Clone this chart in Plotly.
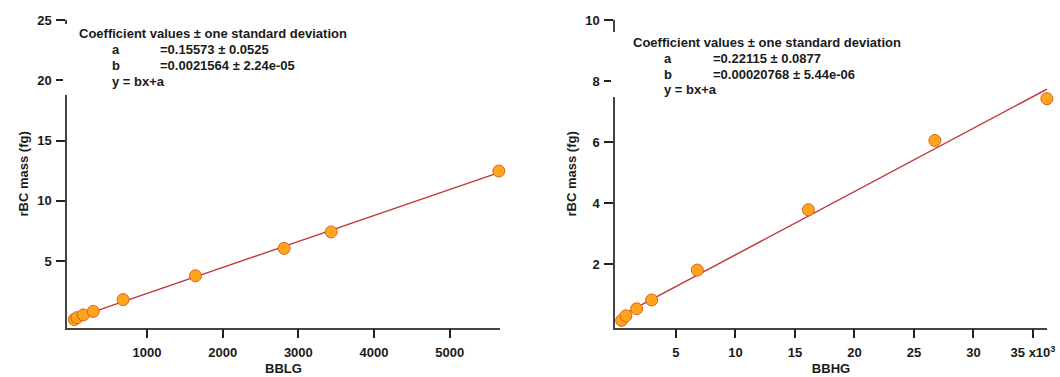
import plotly.graph_objects as go

# ---- data ----
rbc_mass_left = [0.15, 0.30, 0.53, 0.82, 1.80, 3.78, 6.05, 7.42, 12.47]
bblg = [40, 75, 158, 290, 684, 1641, 2812, 3434, 5650]

rbc_mass_right = [0.15, 0.30, 0.53, 0.82, 1.80, 3.78, 6.05, 7.42]
bbhg = [440, 800, 1700, 2960, 6800, 16130, 26760, 36170]

fit_left = {"a": 0.15573, "b": 0.0021564}
fit_right = {"a": 0.22115, "b": 0.00020768}

left_text = ["Coefficient values ± one standard deviation", "a", "=0.15573 ± 0.0525",
             "b", "=0.0021564 ± 2.24e-05", "y = bx+a"]
right_text = ["Coefficient values ± one standard deviation", "a", "=0.22115 ± 0.0877",
              "b", "=0.00020768 ± 5.44e-06", "y = bx+a"]

left_xticks = [1000, 2000, 3000, 4000, 5000]
left_yticks = [5, 10, 15, 20, 25]
right_xticks = [5000, 10000, 15000, 20000, 25000, 30000, 35000]
right_xticktext = ["5", "10", "15", "20", "25", "30", "35 x10<sup>3</sup>"]
right_yticks = [2, 4, 6, 8, 10]

W, H = 1060, 377
FONT = "Liberation Sans, Arial, sans-serif"
TXT = "#1a1a1a"
LINE_C = "#c0393f"
MARK_FILL = "#ffa41c"
MARK_EDGE = "#d8651c"

fig = go.Figure()

def fit_line(xs, fit):
    x0, x1 = min(xs), max(xs)
    return [x0, x1], [fit["a"] + fit["b"] * x0, fit["a"] + fit["b"] * x1]

for xs, ys, fit, xa, ya in [(bblg, rbc_mass_left, fit_left, "x", "y"),
                            (bbhg, rbc_mass_right, fit_right, "x2", "y2")]:
    fx, fy = fit_line(xs, fit)
    fig.add_trace(go.Scatter(x=fx, y=fy, mode="lines", xaxis=xa, yaxis=ya,
                             line=dict(color=LINE_C, width=1.5),
                             cliponaxis=False, showlegend=False, hoverinfo="skip"))
    fig.add_trace(go.Scatter(x=xs, y=ys, mode="markers", xaxis=xa, yaxis=ya,
                             marker=dict(size=12, color=MARK_FILL,
                                         line=dict(color=MARK_EDGE, width=1)),
                             cliponaxis=False, showlegend=False))

ydom = [1 - 327.7 / H, 1 - 20 / H]
TF = dict(size=13, color=TXT, family=FONT, weight="bold")
TITLEF = dict(size=13, family=FONT, color=TXT, weight="bold")
axis_common = dict(showline=True, linecolor="#444", linewidth=1.5,
                   ticks="outside", tickcolor="#222", tickwidth=2, ticklen=9,
                   showgrid=False, zeroline=False, automargin=False,
                   tickfont=TF)

fig.update_layout(
    width=W, height=H,
    margin=dict(l=0, r=0, t=0, b=0),
    paper_bgcolor="white", plot_bgcolor="white",
    font=dict(family=FONT, color=TXT, weight="bold"),
    xaxis=dict(domain=[67 / W, 500 / W], range=[-57, 5665], tickvals=left_xticks,
               anchor="y", ticklabelstandoff=3,
               title=dict(text="BBLG", standoff=5, font=TITLEF),
               **axis_common),
    yaxis=dict(domain=ydom, range=[-0.53, 25], tickvals=left_yticks,
               anchor="x", ticklabelstandoff=2,
               title=dict(text="rBC mass (fg)", standoff=6, font=TITLEF),
               **axis_common),
    xaxis2=dict(domain=[615 / W, 1047 / W], range=[-117, 36180], tickvals=right_xticks,
                ticktext=right_xticktext, anchor="y2", ticklabelstandoff=3,
                title=dict(text="BBHG", standoff=5, font=TITLEF),
                **axis_common),
    yaxis2=dict(domain=ydom, range=[-0.09, 10], tickvals=right_yticks,
                anchor="x2", ticklabelstandoff=2,
                title=dict(text="rBC mass (fg)", standoff=6, font=TITLEF),
                **axis_common),
)

# white boxes behind the fit-result text (they hide part of the y axis, as in the reference)
for x0, x1, y0, y1 in [(63, 365, 24, 95), (611, 920, 32, 97)]:
    fig.add_shape(type="rect", xref="paper", yref="paper", layer="above",
                  x0=x0 / W, x1=x1 / W, y0=1 - y1 / H, y1=1 - y0 / H,
                  fillcolor="white", line=dict(width=0))

def add_block(texts, hx, hy, lx, vx, ys):
    pos = [(hx, hy), (lx, ys[0]), (vx, ys[0]), (lx, ys[1]), (vx, ys[1]), (lx, ys[2])]
    for t, (px, py) in zip(texts, pos):
        fig.add_annotation(text=t, xref="paper", yref="paper", x=px / W, y=1 - py / H,
                           xanchor="left", yanchor="middle", showarrow=False,
                           font=dict(size=13, family=FONT, color=TXT, weight="bold"))

add_block(left_text, 76.5, 33.3, 110, 158.3, [50, 65.7, 81])
add_block(right_text, 630.5, 42.3, 661.7, 710.7, [58.5, 74, 89.5])

fig.write_html("out.html", config={"displayModeBar": False},
               post_script="document.body.style.margin='0';document.body.style.overflow='hidden';")
